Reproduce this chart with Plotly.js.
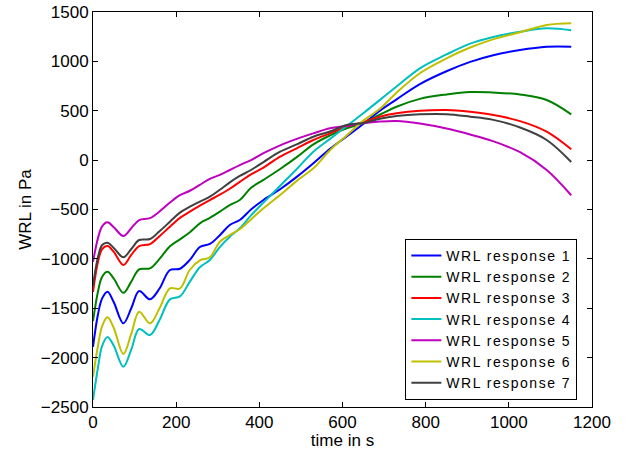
<!DOCTYPE html>
<html>
<head>
<meta charset="utf-8">
<script src="https://cdn.plot.ly/plotly-3.0.1.min.js"></script>
<style>
html,body{margin:0;padding:0;background:#fff;}
#chart{width:628px;height:450px;}
.legendtext{letter-spacing:1.5px;}
</style>
</head>
<body>
<div id="chart"></div>
<script>
var timeS = [0, 12, 22, 35, 50, 73, 92, 111, 137, 160, 185, 209, 233, 257, 281, 305, 329, 353, 380, 410, 450, 490, 530, 570, 610, 650, 690, 730, 786, 850, 907, 960, 1027, 1091, 1150];

var wrl1 = [-1890, -1560, -1400, -1332, -1440, -1653, -1500, -1325, -1410, -1300, -1113, -1100, -1010, -880, -849, -760, -657, -606, -500, -404, -295, -170, -32, 115, 240, 365, 500, 615, 770, 900, 995, 1060, 1115, 1148, 1149];
var wrl2 = [-1630, -1330, -1180, -1130, -1200, -1343, -1230, -1106, -1096, -1000, -872, -802, -730, -640, -585, -522, -455, -404, -280, -200, -90, 30, 160, 250, 322, 375, 460, 541, 620, 665, 690, 685, 665, 609, 464];
var wrl3 = [-1335, -1030, -900, -870, -930, -1062, -960, -870, -850, -770, -674, -585, -522, -460, -404, -350, -290, -220, -145, -75, 35, 120, 204, 271, 339, 385, 440, 474, 500, 508, 490, 460, 395, 288, 110];
var wrl4 = [-2430, -2100, -1880, -1790, -1880, -2092, -1920, -1710, -1771, -1620, -1410, -1380, -1230, -1085, -1011, -880, -775, -690, -560, -430, -260, -90, 85, 215, 345, 475, 610, 745, 930, 1070, 1180, 1245, 1300, 1335, 1315];
var wrl5 = [-1030, -790, -670, -630, -680, -768, -690, -608, -588, -520, -430, -355, -310, -250, -190, -150, -100, -50, 0, 70, 150, 215, 271, 322, 345, 373, 390, 396, 370, 320, 260, 195, 80, -100, -356];
var wrl6 = [-2195, -1880, -1680, -1592, -1700, -1963, -1760, -1535, -1653, -1500, -1298, -1300, -1110, -1015, -984, -826, -758, -700, -600, -488, -353, -210, -83, 100, 250, 400, 520, 683, 880, 1030, 1140, 1220, 1295, 1368, 1386];
var wrl7 = [-1270, -980, -860, -836, -890, -984, -900, -809, -799, -720, -624, -532, -472, -420, -370, -300, -225, -160, -100, -20, 85, 160, 237, 290, 356, 376, 420, 447, 464, 465, 440, 410, 330, 204, -19];

var seriesNames = ["WRL response 1", "WRL response 2", "WRL response 3", "WRL response 4", "WRL response 5", "WRL response 6", "WRL response 7"];
var seriesValues = [wrl1, wrl2, wrl3, wrl4, wrl5, wrl6, wrl7];
var seriesColors = ["#0000ff", "#008000", "#ff0000", "#00bfbf", "#bf00bf", "#bfbf00", "#404040"];

var xTicks = [0, 200, 400, 600, 800, 1000, 1200];
var yTicks = [-2500, -2000, -1500, -1000, -500, 0, 500, 1000, 1500];

var traces = seriesValues.map(function (v, i) {
  return {
    x: timeS, y: v, type: "scatter", mode: "lines", name: seriesNames[i],
    line: {color: seriesColors[i], width: 2, shape: "spline", smoothing: 1}
  };
});

var axisCommon = {
  showline: true, linecolor: "#000", linewidth: 1, mirror: "ticks",
  ticks: "inside", ticklen: 5, tickcolor: "#000", tickwidth: 1,
  showgrid: false, zeroline: false,
  tickfont: {family: "Liberation Sans, Arial, sans-serif", size: 17, color: "#000"}
};

var layout = {
  width: 628, height: 450,
  margin: {l: 93, r: 36, t: 12, b: 43},
  paper_bgcolor: "#fff", plot_bgcolor: "#fff",
  font: {family: "Liberation Sans, Arial, sans-serif", color: "#000"},
  xaxis: Object.assign({}, axisCommon, {
    range: [0, 1200], tickvals: xTicks, ticktext: xTicks.map(String),
    title: {text: "time in s", font: {size: 17, color: "#000"}, standoff: 0}
  }),
  yaxis: Object.assign({}, axisCommon, {
    range: [-2500, 1500], tickvals: yTicks,
    ticktext: yTicks.map(function (t) { return String(t).replace("-", "\u2212"); }),
    title: {text: "WRL in Pa", font: {size: 17, color: "#000"}, standoff: 4}
  }),
  showlegend: true,
  legend: {
    x: 0.626, y: 0.018, xanchor: "left", yanchor: "bottom",
    bgcolor: "#fff", bordercolor: "#000", borderwidth: 1,
    font: {size: 14, color: "#000"}, tracegroupgap: 0
  }
};

Plotly.newPlot("chart", traces, layout, {displayModeBar: false, staticPlot: true});
</script>
</body>
</html>
